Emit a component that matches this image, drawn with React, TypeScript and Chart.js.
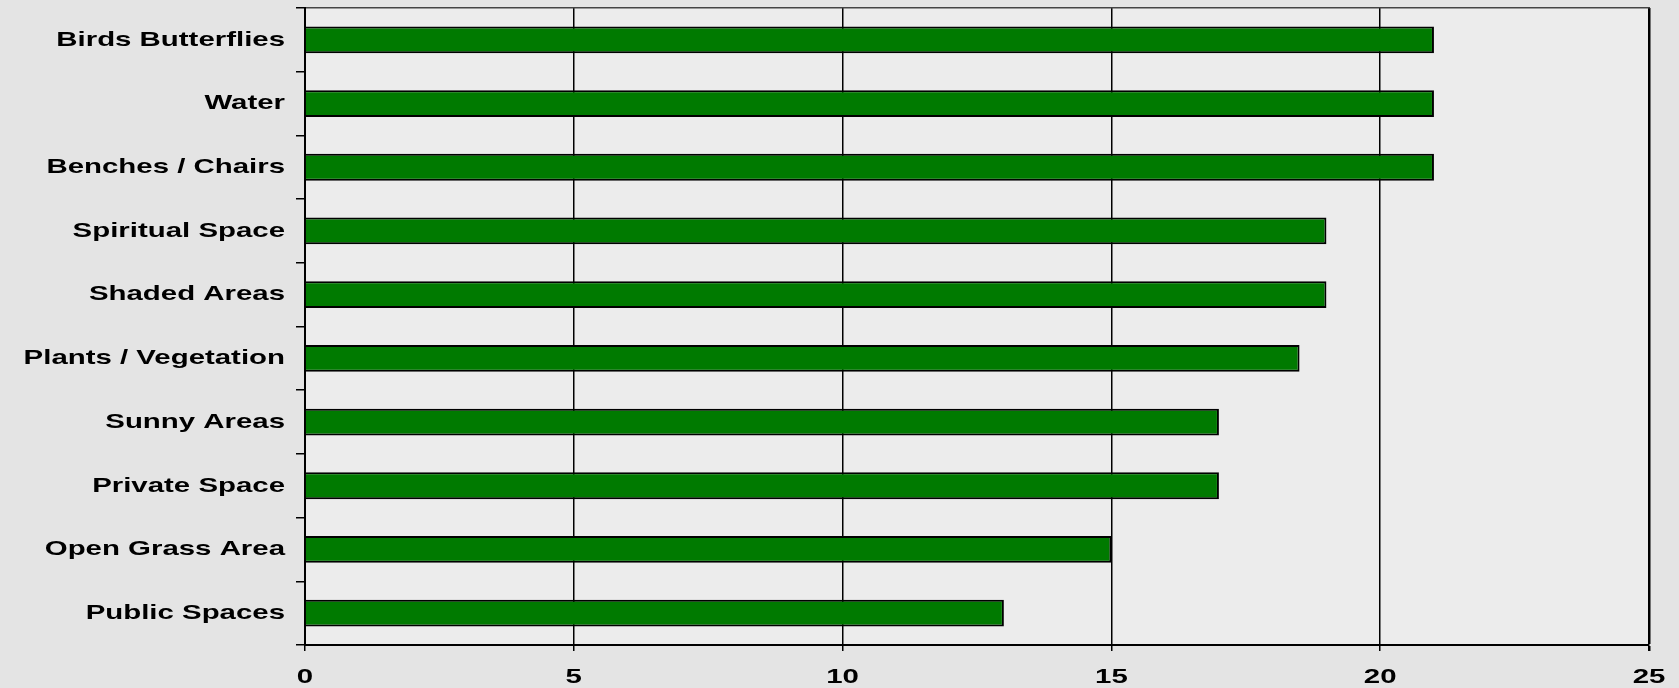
import React, { useEffect, useRef } from "react";
import { Chart, registerables } from "chart.js";

Chart.register(...registerables);

const categories = [
  "Birds Butterflies",
  "Water",
  "Benches / Chairs",
  "Spiritual Space",
  "Shaded Areas",
  "Plants / Vegetation",
  "Sunny Areas",
  "Private Space",
  "Open Grass Area",
  "Public Spaces",
];
const values = [21, 21, 21, 19, 19, 18.5, 17, 17, 15, 13];
const xMin = 0;
const xMax = 25;
const xStep = 5;

const TEXT_STRETCH = 1.4;

const bgPlugin = {
  id: "bgAndStretch",
  beforeInit(chart: any) {
    const ctx = chart.ctx as any;
    if (!ctx.__stretched) {
      const orig = ctx.fillText.bind(ctx);
      ctx.fillText = (text: string, x: number, y: number) => {
        ctx.save();
        ctx.translate(x, y);
        ctx.scale(TEXT_STRETCH, 1);
        orig(text, 0, 0);
        ctx.restore();
      };
      ctx.__stretched = true;
    }
  },
  beforeDraw(chart: any) {
    const ctx = chart.ctx;
    ctx.save();
    ctx.fillStyle = "#e4e4e4";
    ctx.fillRect(0, 0, chart.width, chart.height);
    const a = chart.chartArea;
    ctx.fillStyle = "#ececec";
    ctx.fillRect(a.left, a.top, a.right - a.left, a.bottom - a.top);
    ctx.restore();
  },
};

export default function App() {
  const ref = useRef<HTMLCanvasElement>(null);
  useEffect(() => {
    if (!ref.current) return;
    const font = { family: "'Liberation Sans', Arial, sans-serif", size: 21, weight: "bold" as const };
    const chart = new Chart(ref.current, {
      type: "bar",
      data: {
        labels: categories,
        datasets: [
          {
            data: values,
            backgroundColor: "#007a00",
            borderColor: "#000000",
            borderWidth: 2,
            categoryPercentage: 1,
            barPercentage: 0.42,
            xAxisID: "x",
            yAxisID: "y",
          },
        ],
      },
      options: {
        indexAxis: "y",
        animation: false,
        responsive: false,
        maintainAspectRatio: false,
        layout: { padding: { left: 0, top: 8, right: 30, bottom: 0 } },
        plugins: { legend: { display: false }, tooltip: { enabled: false } },
        scales: {
          x: {
            position: "bottom",
            min: xMin,
            max: xMax,
            ticks: { stepSize: xStep, color: "#000", font, padding: 14 },
            grid: {
              color: "#000",
              lineWidth: (c: any) => (c.tick && c.tick.value === xMax ? 2.5 : 1.5),
              tickLength: 6,
              tickColor: "#000",
            },
            border: { display: true, color: "#000", width: 2 },
            afterFit: (s: any) => {
              s.height = 43;
              s.paddingLeft = 0;
              s.paddingRight = 0;
            },
          },
          xTop: {
            position: "top",
            min: xMin,
            max: xMax,
            ticks: { display: false },
            grid: { display: false, drawTicks: false },
            border: { display: true, color: "#444", width: 1.5 },
            afterFit: (s: any) => {
              s.height = 0;
              s.paddingLeft = 0;
              s.paddingRight = 0;
            },
          },
          y: {
            position: "left",
            ticks: { color: "#000", font, padding: 11 },
            grid: {
              drawOnChartArea: false,
              offset: true,
              color: "#000",
              lineWidth: 1.5,
              tickLength: 9,
            },
            border: { display: true, color: "#000", width: 2 },
            afterFit: (s: any) => {
              s.width = 305;
              s.paddingTop = 0;
              s.paddingBottom = 0;
            },
          },
        },
      } as any,
      plugins: [bgPlugin],
    });
    return () => chart.destroy();
  }, []);
  return (
    <div style={{ position: "fixed", left: 0, top: 0, width: 1679, height: 688, background: "#e4e4e4" }}>
      <canvas ref={ref} width={1679} height={688} style={{ width: 1679, height: 688, display: "block" }} />
    </div>
  );
}
